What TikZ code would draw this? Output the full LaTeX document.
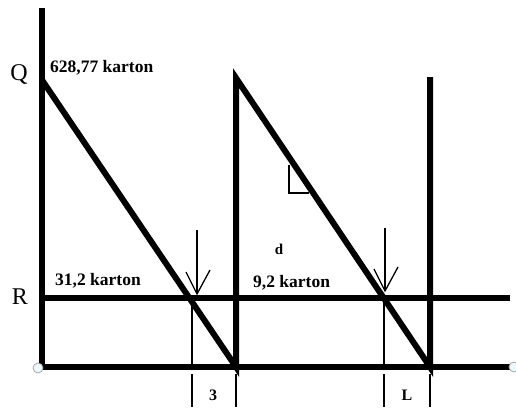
\documentclass[tikz,border=0pt]{standalone}
\usepackage{fontspec}
\setmainfont{Liberation Serif}
\usetikzlibrary{arrows.meta,positioning}
\tikzset{
  thickline/.style={line width=6pt, black},
  thinline/.style={line width=1.3pt, black},
  qlab/.style={font=\bfseries\fontsize{17.5}{19}\selectfont, anchor=west, inner sep=0pt},
  axislab/.style={font=\fontsize{24}{26}\selectfont, inner sep=0pt},
  endpt/.style={circle, draw=gray!70, fill=cyan!8, minimum size=10pt, inner sep=0pt, line width=0.8pt}
}

\begin{document}
\begin{tikzpicture}[x=1pt,y=-1pt]
\useasboundingbox (0,0) rectangle (516,407);
% key points of the stock curve
\coordinate (top) at (42,8);
\coordinate (origin) at (42,367);
\coordinate (qpt) at (42,80);
\coordinate (cyc1) at (236,367);
\coordinate (top1) at (236,78);
\coordinate (cyc2) at (430,367);
\coordinate (top2) at (430,77);
\coordinate (rleft) at (42,298);
\coordinate (rright) at (510,298);
\coordinate (bright) at (510,367);
\coordinate (hit1) at (192,298);
\coordinate (hit2) at (384,298);
\coordinate (tip1) at (197,294);
\coordinate (tip2) at (385,291);
% axes and reorder level
\draw[thickline] (top) -- (origin) -- (bright);
\draw[thickline] (rleft) -- (rright);
% saw-tooth
\draw[thickline] (qpt) -- (cyc1) -- (top1) -- (cyc2) -- (top2);
% right angle mark
\draw[line width=1.5pt] (289,165) -- (289,193) -- (309,193);
% reorder arrows (open V heads)
\foreach \tip/\ytop in {tip1/230, tip2/228} {
  \draw[thinline] (\tip |- 0,\ytop) -- (\tip);
  \draw[thinline, line join=miter] (\tip) ++(-11,-22) -- (\tip) -- ++(13,-24);
}
% lead time marks
\draw[thinline] (hit1) -- (hit1 |- origin);
\draw[thinline] (hit2) -- (hit2 |- origin);
\foreach \xm in {192,236,384,430}
  \draw[thinline] (\xm,374) -- (\xm,407);
% end points
\node[endpt] (p0) at (38,368) {};
\node[endpt] (p1) at (514,367) {};
% labels
\node[axislab] (qname) at (19,74) {Q};
\node[axislab] (rname) at (20,297) {R};
\node[qlab] (qval) at (50,68) {628,77 karton};
\node[qlab] (rval1) at (55,281) {31,2 karton};
\node[qlab] (rval2) at (253,283) {9,2 karton};
\node[font=\bfseries\fontsize{15}{17}\selectfont, inner sep=0pt] (dlab) at (279,249) {d};
\node[font=\bfseries\fontsize{16}{18}\selectfont, inner sep=0pt] (lt1) at (213,395) {3};
\node[font=\bfseries\fontsize{16}{18}\selectfont, inner sep=0pt] (lt2) at (407,395) {L};
\end{tikzpicture}
\end{document}
